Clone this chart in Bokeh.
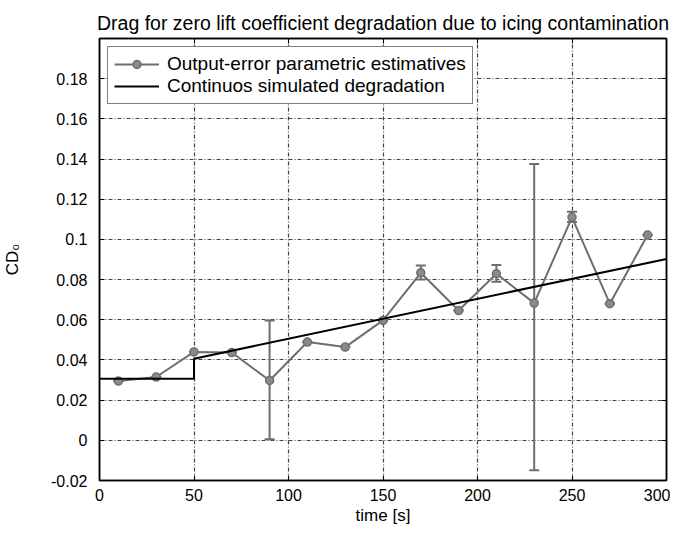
from bokeh.plotting import figure
from bokeh.models import (ColumnDataSource, Whisker, TeeHead, LinearAxis, Range1d,
                          FixedTicker, Legend, LegendItem)
from bokeh.embed import file_html
from bokeh.resources import INLINE

# Data
time_est = [10, 30, 50, 70, 90, 110, 130, 150, 170, 190, 210, 230, 250, 270, 290]
cd0_est = [0.0295, 0.0315, 0.044, 0.0437, 0.0298, 0.0489, 0.0464, 0.0597, 0.0834, 0.0646,
           0.0829, 0.0683, 0.111, 0.068, 0.1022]
err_low = [0.0295, 0.0315, 0.044, 0.0437, 0.0005, 0.0489, 0.0464, 0.0597, 0.080, 0.0646,
           0.0789, -0.0149, 0.1087, 0.068, 0.1022]
err_high = [0.0295, 0.0315, 0.044, 0.0437, 0.0597, 0.0489, 0.0464, 0.0597, 0.087, 0.0646,
            0.0873, 0.1375, 0.1138, 0.068, 0.1022]
time_sim = [0, 50, 50, 300]
cd0_sim = [0.0307, 0.0307, 0.0406, 0.0903]
x_ticks = [0, 50, 100, 150, 200, 250, 300]
y_ticks = [-0.02, 0, 0.02, 0.04, 0.06, 0.08, 0.1, 0.12, 0.14, 0.16, 0.18]
y_labels = {-0.02: "-0.02", 0: "0", 0.02: "0.02", 0.04: "0.04", 0.06: "0.06",
            0.08: "0.08", 0.1: "0.1", 0.12: "0.12", 0.14: "0.14", 0.16: "0.16",
            0.18: "0.18"}

FONT = "Liberation Sans"
GREY = "#6e6e6e"

p = figure(width=670, height=527, output_backend="svg", toolbar_location=None,
           x_range=Range1d(0, 300), y_range=Range1d(-0.02, 0.2),
           min_border_left=97, min_border_right=4, min_border_bottom=45, min_border_top=38)

p.title.text = "Drag for zero lift coefficient degradation due to icing contamination"
p.title.align = "center"
p.title.text_font = FONT
p.title.text_font_size = "19.5px"
p.title.text_font_style = "normal"
p.title.text_color = "black"
p.title.standoff = 10

p.outline_line_color = "black"
p.outline_line_width = 1.5
p.background_fill_color = "white"

# Axes
for ax in (p.xaxis[0], p.yaxis[0]):
    ax.major_tick_in = 5
    ax.major_tick_out = 0
    ax.minor_tick_in = 0
    ax.minor_tick_out = 0
    ax.axis_line_color = "black"
    ax.axis_line_width = 1.5
    ax.major_tick_line_color = "black"
    ax.major_label_text_font = FONT
    ax.major_label_text_font_size = "16px"
    ax.major_label_text_color = "black"
    ax.axis_label_text_font = FONT
    ax.axis_label_text_font_size = "17px"
    ax.axis_label_text_font_style = "normal"
    ax.axis_label_text_color = "black"

p.xaxis.ticker = FixedTicker(ticks=x_ticks)
p.yaxis.ticker = FixedTicker(ticks=y_ticks)
p.yaxis.major_label_overrides = y_labels
p.xaxis.axis_label = "time [s]"
p.yaxis.axis_label = "CD\u2080"
p.xaxis.axis_label_standoff = 2
p.yaxis.axis_label_standoff = 26
p.xaxis.major_label_standoff = 8
p.yaxis.major_label_standoff = 12

top_ax = LinearAxis(ticker=FixedTicker(ticks=x_ticks),
                    major_label_overrides={t: "" for t in x_ticks},
                    major_tick_in=5, major_tick_out=0, minor_tick_in=0, minor_tick_out=0,
                    major_label_standoff=0, axis_line_color="black", axis_line_width=1.5)
right_ax = LinearAxis(ticker=FixedTicker(ticks=y_ticks),
                      major_label_overrides={t: "" for t in y_ticks},
                      major_tick_in=5, major_tick_out=0, minor_tick_in=0, minor_tick_out=0,
                      major_label_standoff=0, axis_line_color="black", axis_line_width=1.5)
p.add_layout(top_ax, "above")
p.add_layout(right_ax, "right")

# Grid
p.xgrid.ticker = FixedTicker(ticks=x_ticks)
p.ygrid.ticker = FixedTicker(ticks=y_ticks)
for g in (p.xgrid[0], p.ygrid[0]):
    g.grid_line_color = "#222222"
    g.grid_line_dash = "4 2 1 2"
    g.grid_line_width = 1.2
    g.grid_line_alpha = 0.85

src = ColumnDataSource(dict(t=time_est, cd=cd0_est, lo=err_low, hi=err_high))

whisk = Whisker(base="t", lower="lo", upper="hi", source=src,
                line_color=GREY, line_width=2,
                lower_head=TeeHead(size=10, line_color=GREY, line_width=2),
                upper_head=TeeHead(size=10, line_color=GREY, line_width=2))
p.add_layout(whisk)

est_line = p.line("t", "cd", source=src, line_color=GREY, line_width=2)
est_mark = p.scatter("t", "cd", source=src, marker="circle", size=8,
                     line_color=GREY, fill_color="#8a8a8a", line_width=1.5)
sim_line = p.line(time_sim, cd0_sim, line_color="black", line_width=2)

legend = Legend(items=[
    LegendItem(label="Output-error parametric estimatives", renderers=[est_line, est_mark]),
    LegendItem(label="Continuos simulated degradation", renderers=[sim_line]),
], location="top_left")
legend.label_text_font = FONT
legend.label_text_font_size = "19px"
legend.label_text_color = "black"
legend.border_line_color = "black"
legend.border_line_width = 1.5
legend.background_fill_alpha = 1
legend.margin = 8
legend.padding = 6
legend.spacing = 0
legend.glyph_width = 45
legend.label_standoff = 8
p.add_layout(legend)

open("out.html", "w").write(file_html(p, INLINE))
